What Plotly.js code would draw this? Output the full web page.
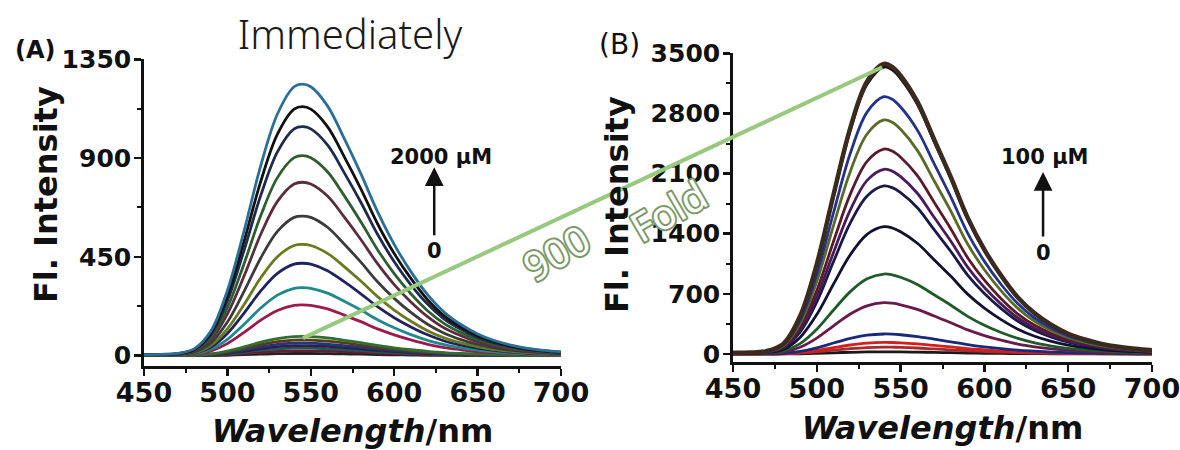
<!DOCTYPE html>
<html>
<head>
<meta charset="utf-8">
<script src="https://cdn.plot.ly/plotly-3.0.1.min.js"></script>
<style>
  html, body { margin: 0; padding: 0; background: #fff; }
  #chart { width: 1180px; height: 450px; }
  g.annotation[data-index="8"] text, g.annotation[data-index="9"] text {
    stroke: #7c9868; stroke-width: 4px; paint-order: stroke fill; stroke-linejoin: round;
  }
</style>
</head>
<body>
<div id="chart"></div>
<script>
// Wavelength grid (nm)
const wavelength = [450,460,470,480,490,500,510,520,530,540,545,550,560,570,580,590,600,610,620,630,640,650,660,670,680,690,700];

// Panel A (Immediately) spectra, low -> high concentration
const A01 = [0,0,0,0,1,2,5,7,9,10,10,10,9,8,7,5,4,3,2,2,1,1,1,0,0,0,0];
const A02 = [0,0,0,1,2,5,10,15,20,22,22,22,20,18,15,12,9,7,5,4,3,2,1,1,1,0,0];
const A03 = [0,0,0,1,3,8,16,24,30,34,34,34,31,27,23,18,14,11,8,5,4,3,2,1,1,1,0];
const A04 = [0,0,0,1,4,11,21,32,41,46,46,46,42,37,31,24,19,14,10,7,5,4,3,2,1,1,1];
const A05 = [0,0,0,1,5,14,27,41,52,57,58,57,53,46,39,31,24,18,13,9,7,5,3,2,2,1,1];
const A06 = [0,0,1,2,6,17,33,50,64,71,72,71,66,58,48,38,30,22,16,12,8,6,4,3,2,1,1];
const A07 = [0,0,1,2,8,21,40,62,78,87,88,87,81,70,59,47,36,27,20,14,10,7,5,3,2,2,1];
const A08 = [1,1,2,6,21,55,106,162,206,229,231,229,213,185,155,122,95,72,52,37,27,18,13,9,6,4,3];
const A09 = [1,2,2,8,28,74,143,217,276,307,310,307,285,248,208,164,127,96,70,50,36,25,17,12,8,6,4];
const A10 = [2,2,3,11,38,101,194,295,375,417,421,417,387,337,282,223,173,131,95,67,48,34,24,16,11,8,6];
const A11 = [2,3,4,13,46,122,233,355,451,502,507,502,466,406,340,269,208,157,114,81,58,41,28,20,14,10,7];
const A12 = [3,3,5,16,57,153,293,445,566,630,636,630,585,509,426,337,261,197,143,102,73,51,36,25,17,12,9];
const A13 = [3,4,6,20,71,190,363,553,703,782,790,782,727,632,529,419,324,245,178,126,91,63,44,31,21,15,11];
const A14 = [4,5,7,23,82,219,419,638,811,902,911,902,838,729,610,483,374,282,205,146,105,73,51,36,25,17,13];
const A15 = [4,5,8,26,94,250,480,730,928,1033,1043,1033,960,834,699,553,428,323,235,167,120,83,58,41,28,20,15];
const A16 = [5,6,9,28,102,272,522,794,1009,1123,1134,1123,1043,907,760,601,465,352,255,181,130,91,64,44,31,22,16];
const A17 = [5,6,10,31,111,297,569,866,1101,1225,1237,1225,1138,990,829,656,507,383,278,198,142,99,69,48,33,24,17];
const colorsA = ['#222222','#6a1a2a','#1a5a5a','#3a1a4a','#1a3a7a','#5a3a1a','#2f6f2f','#9b1c4c','#1f8a8c','#22225e','#6b7a1f','#3c3c3c','#5b2d3d','#2e5e2e','#1f2a4f','#111111','#2b6e98'];

// Panel B spectra, low -> high concentration
const B01 = [0,0,0,1,3,8,14,20,24,25,25,24,22,19,15,12,9,7,5,4,3,2,1,1,1,0,0];
const B02 = [0,0,1,3,10,25,44,62,75,80,79,77,70,59,49,38,29,22,16,11,8,6,4,3,2,1,1];
const B03 = [1,1,1,5,18,42,74,105,127,135,134,130,117,100,82,63,49,36,26,19,14,9,7,5,3,2,2];
const B04 = [1,1,2,8,30,72,128,182,219,233,231,224,203,172,142,110,84,63,45,33,23,16,12,8,6,4,3];
const B05 = [2,3,6,21,78,185,328,466,561,597,591,573,519,442,364,281,215,161,116,84,60,42,30,21,15,11,8];
const B06 = [4,5,9,33,121,289,512,726,875,931,922,894,810,689,568,438,335,251,182,130,93,65,47,33,23,17,12];
const B07 = [6,7,15,52,193,459,815,1156,1393,1482,1467,1423,1289,1097,904,697,534,400,289,207,148,104,74,52,37,27,19];
const B08 = [8,10,20,68,254,606,1076,1526,1839,1956,1936,1878,1702,1447,1193,919,704,528,381,274,196,137,98,68,49,35,25];
const B09 = [9,11,22,75,280,667,1183,1677,2021,2150,2129,2064,1871,1591,1312,1011,774,581,419,301,215,151,108,75,54,39,28];
const B10 = [10,12,24,84,310,740,1312,1861,2243,2386,2362,2291,2076,1766,1455,1121,859,644,465,334,239,167,119,84,60,43,31];
const B11 = [11,14,27,95,354,844,1498,2125,2561,2724,2697,2615,2370,2016,1662,1280,981,735,531,381,272,191,136,95,68,49,35];
const B12 = [12,15,30,105,389,928,1647,2336,2815,2995,2965,2875,2606,2216,1827,1408,1078,809,584,419,300,210,150,105,75,54,39];
const B13 = [13,17,33,117,434,1035,1837,2605,3140,3340,3307,3206,2906,2472,2037,1570,1202,902,651,468,334,234,167,117,84,60,43];
const B14 = [14,17,34,118,439,1047,1857,2633,3173,3376,3342,3241,2937,2498,2059,1587,1215,912,658,473,338,236,169,118,84,61,44];
const colorsB = ['#1a1a1a','#aa2a2a','#d02020','#1a2a7a','#6a1a4a','#1f5a2a','#111133','#1a1a4a','#4a1a5a','#5a1a2a','#5a6a2a','#23338a','#111111','#3b2a1e'];

// Axis tick values
const xTicks = [450,500,550,600,650,700];
const yTicksA = [0,450,900,1350];
const yTicksB = [0,700,1400,2100,2800,3500];

// Fold-change connector: endpoints in data units of each panel
const foldStartA = {x: 545.3, y: 80};
const foldEndB = {x: 539, y: 3337};

const seriesA = [A01,A02,A03,A04,A05,A06,A07,A08,A09,A10,A11,A12,A13,A14,A15,A16,A17];
const seriesB = [B01,B02,B03,B04,B05,B06,B07,B08,B09,B10,B11,B12,B13,B14];

const traces = [];
seriesA.forEach((s, i) => traces.push({
  x: wavelength, y: s, xaxis: 'x', yaxis: 'y', type: 'scatter', mode: 'lines',
  line: {color: colorsA[i], width: 2.8, shape: 'spline', smoothing: 1}, hoverinfo: 'skip'
}));
seriesB.forEach((s, i) => traces.push({
  x: wavelength, y: s, xaxis: 'x2', yaxis: 'y2', type: 'scatter', mode: 'lines',
  line: {color: colorsB[i], width: i === seriesB.length - 1 ? 4.5 : 2.8, shape: 'spline', smoothing: 1}, hoverinfo: 'skip'
}));

const tickFontX = {family: 'DejaVu Sans', size: 27, color: '#111', weight: 700};
const tickFontY = {family: 'DejaVu Sans', size: 25, color: '#111', weight: 700};
const titleFont = {family: 'DejaVu Sans', size: 32, color: '#111', weight: 700};

function xAxis(domain, anchor) {
  return {
    domain: domain, anchor: anchor, range: [450, 700], tickvals: xTicks,
    ticks: 'outside', ticklen: 7, tickwidth: 2.5, tickcolor: '#111',
    minor: {dtick: 25, tick0: 450, ticks: 'outside', ticklen: 4, tickwidth: 2, tickcolor: '#111'},
    showline: true, linewidth: 2.8, linecolor: '#111', showgrid: false, zeroline: false,
    tickfont: tickFontX, ticklabelstandoff: -6, ticklabeloverflow: 'allow',
    title: {text: '<i>Wavelength</i>/nm', font: titleFont, standoff: 14},
    fixedrange: true
  };
}
function yAxis(domain, anchor, range, ticks, minorStep) {
  return {
    domain: domain, anchor: anchor, range: range, tickvals: ticks,
    ticks: 'outside', ticklen: 7, tickwidth: 2.5, tickcolor: '#111',
    minor: {dtick: minorStep, tick0: 0, ticks: 'outside', ticklen: 4, tickwidth: 2, tickcolor: '#111'},
    showline: true, linewidth: 2.8, linecolor: '#111', showgrid: false, zeroline: false,
    tickfont: tickFontY, ticklabelstandoff: -2, ticklabeloverflow: 'allow',
    fixedrange: true
  };
}

const xDomA = [144/1180, 561/1180], yDomA = [1 - 366/450, 1 - 59.3/450];
const xDomB = [733/1180, 1152/1180], yDomB = [1 - 362/450, 1 - 53.3/450];
const yRangeA = [-47, 1350], yRangeB = [-93, 3500], xRange = [450, 700];

function toPaper(v, range, dom) { return dom[0] + (v - range[0]) / (range[1] - range[0]) * (dom[1] - dom[0]); }

const labelFont = {family: 'DejaVu Sans', size: 21, color: '#111', weight: 700};
const C = {xanchor: 'center', yanchor: 'middle', showarrow: false};

const layout = {
  width: 1180, height: 450,
  margin: {l: 0, r: 0, t: 0, b: 0},
  paper_bgcolor: '#fff', plot_bgcolor: 'rgba(0,0,0,0)',
  showlegend: false, hovermode: false,
  title: {text: 'Immediately', x: 350/1180, xanchor: 'center', y: 1 - 35/450, yanchor: 'middle',
          font: {family: 'Noto Sans', size: 40, color: '#1a1a1a', weight: 300}},
  xaxis: xAxis(xDomA, 'y'),
  yaxis: yAxis(yDomA, 'x', yRangeA, yTicksA, 225),
  xaxis2: xAxis(xDomB, 'y2'),
  yaxis2: yAxis(yDomB, 'x2', yRangeB, yTicksB, 350),
  shapes: [{
    type: 'line', xref: 'paper', yref: 'paper', layer: 'above',
    x0: toPaper(foldStartA.x, xRange, xDomA), y0: toPaper(foldStartA.y, yRangeA, yDomA),
    x1: toPaper(foldEndB.x, xRange, xDomB), y1: toPaper(foldEndB.y, yRangeB, yDomB),
    line: {color: '#98c97e', width: 4}
  }],
  annotations: [
    {text: '(A)', xref: 'paper', yref: 'paper', x: 58/1180, y: 1 - 50/450, xanchor: 'right', yanchor: 'middle', showarrow: false,
     font: {family: 'DejaVu Sans', size: 24, color: '#111', weight: 700}},
    Object.assign({text: '(B)', xref: 'paper', yref: 'paper', x: 619/1180, y: 1 - 45/450,
     font: {family: 'DejaVu Sans', size: 28, color: '#111'}}, C),
    Object.assign({text: 'Fl. Intensity', xref: 'paper', yref: 'paper', x: 46/1180, y: 1 - 195/450, textangle: -90,
     font: {family: 'DejaVu Sans', size: 32, color: '#111', weight: 700}}, C),
    Object.assign({text: 'Fl. Intensity', xref: 'paper', yref: 'paper', x: 617/1180, y: 1 - 205/450, textangle: -90,
     font: {family: 'DejaVu Sans', size: 32, color: '#111', weight: 700}}, C),
    Object.assign({text: '2000 µM', xref: 'x', yref: 'y', x: 628, y: 905, font: labelFont}, C),
    Object.assign({text: '0', xref: 'x', yref: 'y', x: 624, y: 477, font: labelFont}, C),
    Object.assign({text: '100 µM', xref: 'x2', yref: 'y2', x: 636, y: 2293, font: labelFont}, C),
    Object.assign({text: '0', xref: 'x2', yref: 'y2', x: 635, y: 1176, font: labelFont}, C),
    Object.assign({text: '900', xref: 'paper', yref: 'paper', x: 556/1180, y: 1 - 253/450, textangle: -30,
     font: {family: 'Noto Sans', size: 40, color: '#ffffff'}}, C),
    Object.assign({text: 'Fold', xref: 'paper', yref: 'paper', x: 668/1180, y: 1 - 210/450, textangle: -30,
     font: {family: 'Noto Sans', size: 40, color: '#ffffff'}}, C),
    {text: '', xref: 'x', yref: 'y', x: 624, y: 858, axref: 'x', ayref: 'y', ax: 624, ay: 542,
     showarrow: true, arrowhead: 2, arrowsize: 1.5, arrowwidth: 2.5, arrowcolor: '#111'},
    {text: '', xref: 'x2', yref: 'y2', x: 635, y: 2119, axref: 'x2', ayref: 'y2', ax: 635, ay: 1350,
     showarrow: true, arrowhead: 2, arrowsize: 1.5, arrowwidth: 2.5, arrowcolor: '#111'}
  ]
};

Plotly.newPlot('chart', traces, layout, {displayModeBar: false, staticPlot: true});
</script>
</body>
</html>
